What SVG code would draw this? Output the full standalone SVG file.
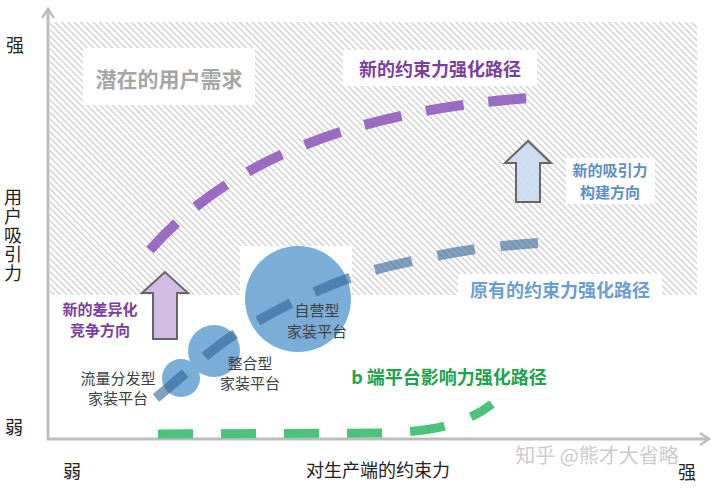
<svg xmlns="http://www.w3.org/2000/svg" width="720" height="490" viewBox="0 0 720 490">
<defs>
<pattern id="hatch" width="4.5" height="4.5" patternUnits="userSpaceOnUse" patternTransform="rotate(-45)">
<rect x="0" y="0" width="1.4" height="4.5" fill="#cfcfcf"/>
</pattern>
<marker id="axisHead" markerWidth="12" markerHeight="14" refX="10" refY="7" orient="auto" markerUnits="userSpaceOnUse">
<path d="M1,1 L10,7 L1,13" fill="none" stroke="#bdbdbd" stroke-width="2.5"/>
</marker>
</defs>
<style>
text{font-family:"Noto Sans CJK SC","Noto Sans",sans-serif;}
.ax{font-size:18px;fill:#222;}
.lbl{font-size:15px;fill:#404040;text-anchor:middle;}
.b{font-weight:bold;}
.dash{fill:none;stroke-linecap:butt;}
.circ{fill:#7badd9;}
.box{fill:#ffffff;}
</style>
<rect width="720" height="490" fill="#ffffff"/>
<!-- hatched background -->
<rect x="50" y="22" width="647" height="273" fill="url(#hatch)"/>
<rect x="240" y="246" width="112" height="50" class="box"/>
<rect x="83" y="48" width="172" height="57" class="box"/>
<rect x="343" y="50" width="194" height="36" class="box"/>
<rect x="566" y="158" width="89" height="46" class="box"/>
<rect x="458" y="274" width="204" height="32" class="box"/>

<g id="axes">
<line x1="48" y1="439" x2="48" y2="9" stroke="#bdbdbd" stroke-width="3" marker-end="url(#axisHead)"/>
<line x1="47" y1="439" x2="709" y2="439" stroke="#bdbdbd" stroke-width="3" marker-end="url(#axisHead)"/>
</g>

<g id="circles">
<circle id="node-small" class="circ" cx="181" cy="378" r="19"/>
<circle id="node-medium" class="circ" cx="214" cy="351" r="26"/>
<circle id="node-big" class="circ" cx="298" cy="299" r="53"/>
</g>

<g id="connectors">
<path id="path-new" class="dash" d="M150,250 Q268,116 531,98" stroke="#9a6bc4" stroke-width="10" stroke-dasharray="38,25"/>
<path id="path-old" class="dash" d="M156,398 C190,370 215,345 245,328 S 330,280 390,266 S 480,247 538,243" stroke="#2f6496" stroke-opacity="0.6" stroke-width="10" stroke-dasharray="38,26"/>
<path id="path-b" class="dash" d="M158,434 L380,433 C430,432 465,425 492,404" stroke="#4cc27a" stroke-width="9" stroke-dasharray="35,28"/>
</g>

<g id="arrow-purple">
<path d="M153,339 L153,293 L142,293 L165,272 L188,293 L177,293 L177,339 Z" fill="#d2bce3" stroke="#666" stroke-width="2" stroke-linejoin="miter"/>
</g>
<g id="arrow-blue">
<path d="M516,202 L516,163 L505,163 L528,141 L551,163 L540,163 L540,202 Z" fill="#c6dbef" fill-opacity="0.85" stroke="#666" stroke-width="2"/>
</g>

<g id="labels">
<text x="169" y="87" font-size="21" class="b" fill="#a6a6a6" text-anchor="middle">潜在的用户需求</text>
<text x="440" y="76" font-size="18" class="b" fill="#7a3ea3" text-anchor="middle">新的约束力强化路径</text>
<text x="610" y="176" font-size="15" class="b" fill="#5b8fc7" text-anchor="middle">新的吸引力</text>
<text x="610" y="198" font-size="15" class="b" fill="#5b8fc7" text-anchor="middle">构建方向</text>
<text x="560" y="297" font-size="18" class="b" fill="#6a9dd2" text-anchor="middle">原有的约束力强化路径</text>
<text x="100" y="315" font-size="15" class="b" fill="#7a3ea3" text-anchor="middle">新的差异化</text>
<text x="100" y="336" font-size="15" class="b" fill="#7a3ea3" text-anchor="middle">竞争方向</text>
<text x="449" y="384" font-size="18" class="b" fill="#1fa34d" text-anchor="middle">b 端平台影响力强化路径</text>
<text x="317" y="316" class="lbl">自营型</text>
<text x="317" y="337" class="lbl">家装平台</text>
<text x="250" y="369" class="lbl">整合型</text>
<text x="250" y="389" class="lbl">家装平台</text>
<text x="118" y="384" class="lbl">流量分发型</text>
<text x="118" y="404" class="lbl">家装平台</text>
</g>

<g id="axis-labels">
<text x="15" y="52" class="ax" text-anchor="middle">强</text>
<text x="13" y="188" class="ax" style="writing-mode:vertical-rl;letter-spacing:1px">用户吸引力</text>
<text x="14" y="434" class="ax" text-anchor="middle">弱</text>
<text x="72" y="478" class="ax" text-anchor="middle">弱</text>
<text x="378" y="477" class="ax" text-anchor="middle">对生产端的约束力</text>
<text x="597" y="463" font-size="20" fill="#cccccc" text-anchor="middle">知乎 @熊才大省略</text>
<text x="687" y="479" class="ax" text-anchor="middle">强</text>
</g>
</svg>
